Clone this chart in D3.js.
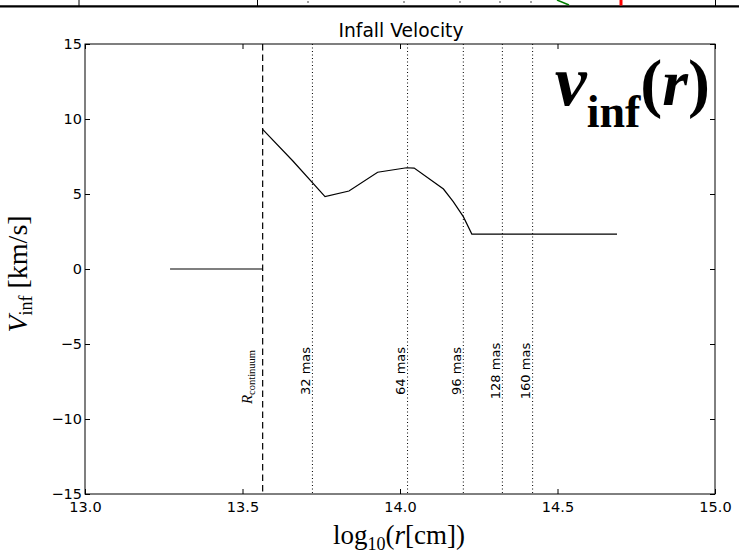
<!DOCTYPE html>
<html lang="en">
<head>
<meta charset="UTF-8">
<script src="https://cdn.jsdelivr.net/npm/d3@7"></script>
<title>Infall Velocity</title>
<style>
  body { margin: 0; background: #fff; }
</style>
</head>
<body>
<div id="container"></div>
<script>
// inner flat part (inside the continuum radius)
const innerR = [13.27, 13.564];
const innerV = [0, 0];
// infall velocity profile, log10(r) vs km/s
const curveR = [13.564, 13.66, 13.762, 13.838, 13.929, 14.021, 14.045, 14.138, 14.169, 14.201, 14.228, 14.689];
const curveV = [9.31, 7.2, 4.82, 5.2, 6.45, 6.75, 6.73, 5.33, 4.49, 3.49, 2.33, 2.33];
// reference radii
const rCont = 13.564;
const masR = [13.722, 14.024, 14.201, 14.325, 14.421];
const masLabels = ["32 mas", "64 mas", "96 mas", "128 mas", "160 mas"];
const xTicks = [13.0, 13.5, 14.0, 14.5, 15.0];
const yTicks = [-15, -10, -5, 0, 5, 10, 15];

const width = 739, height = 553;
const margin = {top: 44, right: 24, bottom: 59, left: 85};
const W = width - margin.left - margin.right;
const H = height - margin.top - margin.bottom;

const svg = d3.select("#container").append("svg")
  .attr("width", width).attr("height", height)
  .style("background", "#fff");

// remnant of the panel above (cut off at the top edge)
const strip = svg.append("g");
strip.append("line").attr("x1", 0).attr("x2", width).attr("y1", 6.3).attr("y2", 6.3)
  .attr("stroke", "#000").attr("stroke-width", 2.2);
[79, 257.5, 715.5].forEach(px => strip.append("line")
  .attr("x1", px).attr("x2", px).attr("y1", 0).attr("y2", 6).attr("stroke", "#000"));
[308, 404, 460, 500, 531].forEach(px => strip.append("line")
  .attr("x1", px).attr("x2", px).attr("y1", 1).attr("y2", 3).attr("stroke", "#444"));
strip.append("line").attr("x1", 557).attr("y1", 0).attr("x2", 569).attr("y2", 5)
  .attr("stroke", "green").attr("stroke-width", 1.5);
strip.append("line").attr("x1", 621).attr("y1", 0).attr("x2", 621).attr("y2", 5.5)
  .attr("stroke", "red").attr("stroke-width", 3);

const g = svg.append("g").attr("transform", `translate(${margin.left},${margin.top})`);

const x = d3.scaleLinear().domain([13, 15]).range([0, W]);
const y = d3.scaleLinear().domain([-15, 15]).range([H, 0]);

// axes with inward ticks on all four sides
function styleAxis(sel) {
  sel.select(".domain").remove();
  sel.attr("font-family", "DejaVu Sans, sans-serif").attr("font-size", 14.5);
  sel.selectAll(".tick line").attr("stroke", "#000");
  sel.selectAll(".tick text").attr("fill", "#000");
}
g.append("g").attr("transform", `translate(0,${H})`)
  .call(d3.axisBottom(x).tickValues(xTicks).tickSize(-5).tickPadding(8).tickFormat(d3.format(".1f")))
  .call(styleAxis);
g.append("g")
  .call(d3.axisTop(x).tickValues(xTicks).tickSize(-5).tickFormat(""))
  .call(styleAxis);
g.append("g")
  .call(d3.axisLeft(y).tickValues(yTicks).tickSize(-5).tickPadding(3).tickFormat(d => d < 0 ? "\u2212" + (-d) : d))
  .call(styleAxis);
g.append("g").attr("transform", `translate(${W},0)`)
  .call(d3.axisRight(y).tickValues(yTicks).tickSize(-5).tickFormat(""))
  .call(styleAxis);

g.append("rect").attr("width", W).attr("height", H)
  .attr("fill", "none").attr("stroke", "#000").attr("stroke-width", 1);

// continuum radius, dashed
g.append("line")
  .attr("x1", x(rCont)).attr("x2", x(rCont)).attr("y1", 0).attr("y2", H)
  .attr("stroke", "#000").attr("stroke-width", 1.2).attr("stroke-dasharray", "6.5,4");

// mas markers, dotted
g.selectAll("line.mas").data(masR).enter().append("line")
  .attr("x1", d => x(d)).attr("x2", d => x(d)).attr("y1", 0).attr("y2", H)
  .attr("stroke", "#000").attr("stroke-width", 1).attr("stroke-dasharray", "1,2.5");

g.selectAll("text.mas").data(masR).enter().append("text")
  .attr("class", "mas")
  .attr("font-family", "DejaVu Sans, sans-serif").attr("font-size", 13)
  .attr("transform", d => `translate(${x(d) - 2.5},${327}) rotate(-90)`)
  .attr("text-anchor", "middle")
  .text((d, i) => masLabels[i]);

const cont = g.append("text")
  .attr("transform", `translate(${x(rCont) - 10.5},${333}) rotate(-90)`)
  .attr("text-anchor", "middle")
  .attr("font-family", "Liberation Serif, serif");
cont.append("tspan").attr("font-style", "italic").attr("font-size", 15).text("R");
cont.append("tspan").attr("font-size", 10.5).attr("dy", 3).text("continuum");

// profile
const line = d3.line().x(d => x(d[0])).y(d => y(d[1]));
g.append("path").datum(innerR.map((r, i) => [r, innerV[i]]))
  .attr("d", line).attr("fill", "none").attr("stroke", "#000").attr("stroke-width", 1.2);
g.append("path").datum(curveR.map((r, i) => [r, curveV[i]]))
  .attr("d", line).attr("fill", "none").attr("stroke", "#000").attr("stroke-width", 1.2);

// title
svg.append("text").attr("x", 401).attr("y", 37).attr("text-anchor", "middle")
  .attr("font-family", "DejaVu Sans, sans-serif").attr("font-size", 18.7).text("Infall Velocity");

// x label
const xl = svg.append("text").attr("x", 399).attr("y", 544).attr("text-anchor", "middle")
  .attr("font-family", "Liberation Serif, serif").attr("font-size", 27);
xl.append("tspan").text("log");
xl.append("tspan").attr("font-size", 18).attr("dy", 6).text("10");
xl.append("tspan").attr("dy", -6).text("(");
xl.append("tspan").attr("font-style", "italic").text("r");
xl.append("tspan").text("[cm])");

// y label
const yl = svg.append("text").attr("transform", "translate(27,274) rotate(-90)")
  .attr("text-anchor", "middle")
  .attr("font-family", "Liberation Serif, serif").attr("font-size", 28);
yl.append("tspan").attr("font-style", "italic").text("V");
yl.append("tspan").attr("font-size", 18).attr("dy", 5).text("inf");
yl.append("tspan").attr("dy", -5).text(" [km/s]");

// big corner label
const big = svg.append("text").attr("x", 710).attr("y", 105).attr("text-anchor", "end")
  .attr("font-family", "Liberation Serif, serif").attr("font-weight", "bold").attr("font-size", 66);
big.append("tspan").attr("font-style", "italic").attr("font-size", 72).text("v");
big.append("tspan").attr("font-size", 46).attr("dy", 22).text("inf");
big.append("tspan").attr("dy", -22).text("(");
big.append("tspan").attr("font-style", "italic").text("r");
big.append("tspan").text(")");
</script>
</body>
</html>
